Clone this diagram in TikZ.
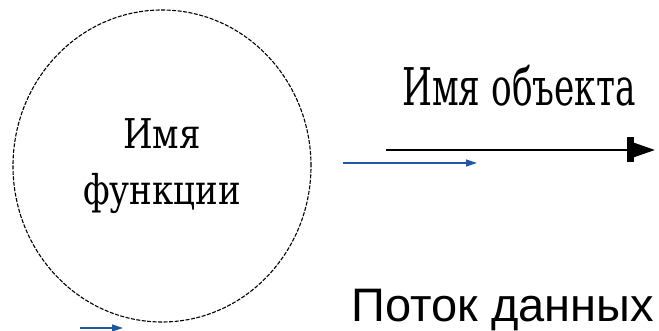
\documentclass[tikz,border=0pt]{standalone}
\usepackage{fontspec}
\setmainfont{Liberation Sans}
\newfontfamily\fnfont[FakeStretch=0.83]{DejaVu Serif}
\newfontfamily\objfont[FakeStretch=0.66]{DejaVu Serif}
\usetikzlibrary{arrows.meta,shapes.geometric}
\definecolor{flowblue}{RGB}{31,88,160}

\begin{document}
\begin{tikzpicture}[x=1pt,y=1pt,
  func node/.style={ellipse,draw,dash pattern=on 4pt off 1.5pt,line width=1.1pt,minimum width=298pt,minimum height=312pt,inner sep=0pt,align=center,font=\fnfont\fontsize{41}{56}\selectfont},
  flow/.style={line width=2pt,-{Rectangle[length=7pt,width=25pt]Triangle[length=21pt,width=14pt]}},
  hint/.style={flowblue,line width=1.3pt,-{Triangle[length=11pt,width=7pt]}}]
\useasboundingbox (0,0) rectangle (659,331);

\node at (162,165) [func node] (func) {Имя\\функции};
\node at (519,225) [anchor=base,font=\objfont\fontsize{52}{52}\selectfont] (objname) {Имя объекта};
\node at (348,9) [anchor=base west,font=\fontsize{47}{47}\selectfont] (caption) {Поток данных};

\coordinate (flow start) at (386,181);
\coordinate (flow end) at (655,181);
\coordinate (hint a start) at (343,168);
\coordinate (hint a end) at (477,168);
\coordinate (hint b start) at (80,3);
\coordinate (hint b end) at (123,3);

\draw[flow] (flow start) -- (flow end);
\draw[hint] (hint a start) -- (hint a end);
\draw[hint] (hint b start) -- (hint b end);

\end{tikzpicture}
\end{document}
